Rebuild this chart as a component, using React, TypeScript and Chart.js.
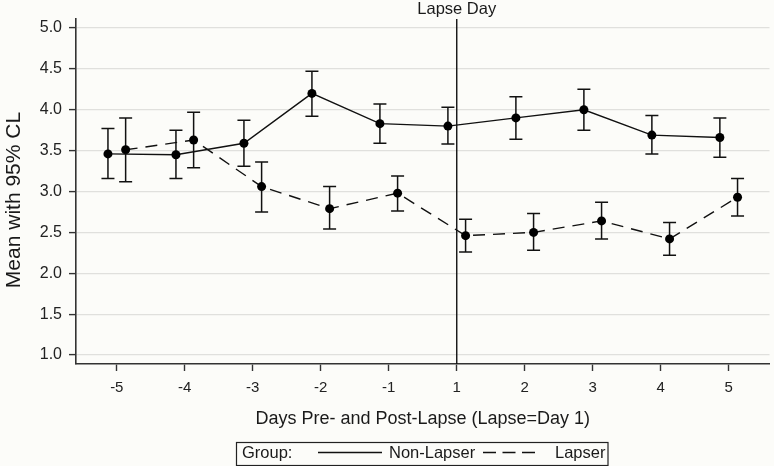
import React, { useEffect, useRef } from 'react';
import { Chart, registerables } from 'chart.js';

Chart.register(...registerables);

// ---- data ----
const categories = ['-5', '-4', '-3', '-2', '-1', '1', '2', '3', '4', '5'];
const yTickValues = [1.0, 1.5, 2.0, 2.5, 3.0, 3.5, 4.0, 4.5, 5.0];

const nonLapserMean = [3.46, 3.45, 3.59, 4.20, 3.83, 3.80, 3.90, 4.00, 3.69, 3.66];
const nonLapserLow = [3.16, 3.16, 3.31, 3.92, 3.59, 3.58, 3.64, 3.75, 3.46, 3.42];
const nonLapserHigh = [3.77, 3.75, 3.87, 4.47, 4.07, 4.03, 4.16, 4.25, 3.93, 3.90];

const lapserMean = [3.51, 3.63, 3.06, 2.79, 2.98, 2.46, 2.50, 2.64, 2.42, 2.93];
const lapserLow = [3.12, 3.29, 2.75, 2.54, 2.76, 2.26, 2.28, 2.42, 2.22, 2.70];
const lapserHigh = [3.90, 3.97, 3.36, 3.06, 3.19, 2.66, 2.73, 2.87, 2.62, 3.16];

const lapseDayLabel = '1';

// ---- styling ----
const BG = '#fcfcf9';
const FONT = '"Liberation Sans", Arial, sans-serif';
const INK = '#1a1a1a';
const AXIS = '#333333';
const GROUP_SHIFT = 0.13;
const DASH = [12, 8];

export default function App() {
  const ref = useRef<HTMLCanvasElement>(null);

  useEffect(() => {
    const canvas = ref.current!;
    const errors = [
      { low: nonLapserLow, high: nonLapserHigh },
      { low: lapserLow, high: lapserHigh },
    ];

    const bgPlugin = {
      id: 'bg',
      beforeDraw(chart: any) {
        const c = chart.ctx;
        c.save();
        c.fillStyle = BG;
        c.fillRect(0, 0, chart.width, chart.height);
        c.restore();
      },
    };

    const decorPlugin = {
      id: 'decor',
      beforeDatasetsDraw(chart: any) {
        const c = chart.ctx;
        const xs = chart.scales.x;
        const ys = chart.scales.y;
        const area = chart.chartArea;
        // lapse day reference line
        const lx = xs.getPixelForValue(categories.indexOf(lapseDayLabel));
        c.save();
        c.strokeStyle = '#111';
        c.lineWidth = 1.4;
        c.beginPath();
        c.moveTo(lx, area.top);
        c.lineTo(lx, area.bottom);
        c.stroke();
        c.fillStyle = INK;
        c.font = `16.5px ${FONT}`;
        c.textAlign = 'center';
        c.textBaseline = 'alphabetic';
        c.fillText('Lapse Day', lx, 14);

        // error bars
        c.strokeStyle = '#111';
        c.lineWidth = 1.5;
        errors.forEach((e, di) => {
          const meta = chart.getDatasetMeta(di);
          meta.data.forEach((pt: any, j: number) => {
            const x = pt.x;
            const yl = ys.getPixelForValue(e.low[j]);
            const yh = ys.getPixelForValue(e.high[j]);
            c.beginPath();
            c.moveTo(x, yl);
            c.lineTo(x, yh);
            c.moveTo(x - 6.5, yl);
            c.lineTo(x + 6.5, yl);
            c.moveTo(x - 6.5, yh);
            c.lineTo(x + 6.5, yh);
            c.stroke();
          });
        });
        c.restore();
      },
      afterDraw(chart: any) {
        const c = chart.ctx;
        const area = chart.chartArea;
        c.save();
        c.fillStyle = INK;
        // x title
        c.font = `18px ${FONT}`;
        c.textAlign = 'center';
        c.textBaseline = 'alphabetic';
        c.fillText('Days Pre- and Post-Lapse (Lapse=Day 1)', (area.left + area.right) / 2, 424);
        // y title
        c.save();
        c.translate(20, 200);
        c.rotate(-Math.PI / 2);
        c.font = `21px ${FONT}`;
        c.fillText('Mean with 95% CL', 0, 0);
        c.restore();

        // legend
        c.strokeStyle = '#222';
        c.lineWidth = 1.2;
        c.strokeRect(236.5, 442.5, 371.5, 23);
        c.font = `16.5px ${FONT}`;
        c.textAlign = 'left';
        c.fillText('Group:', 242, 458);
        c.fillText('Non-Lapser', 389, 458);
        c.fillText('Lapser', 555, 458);
        c.strokeStyle = '#111';
        c.lineWidth = 1.3;
        c.beginPath();
        c.moveTo(318, 452.5);
        c.lineTo(382, 452.5);
        c.stroke();
        c.setLineDash([13, 6.5]);
        c.beginPath();
        c.moveTo(483, 452.5);
        c.lineTo(535, 452.5);
        c.stroke();
        c.restore();
      },
    };

    const chart = new Chart(canvas, {
      type: 'scatter',
      data: {
        datasets: [
          {
            label: 'Non-Lapser',
            data: nonLapserMean.map((y, i) => ({ x: i - GROUP_SHIFT, y })),
            showLine: true,
            borderColor: '#111',
            borderWidth: 1.4,
            pointRadius: 4.5,
            pointBackgroundColor: '#000',
            pointBorderWidth: 0,
            tension: 0,
          },
          {
            label: 'Lapser',
            data: lapserMean.map((y, i) => ({ x: i + GROUP_SHIFT, y })),
            showLine: true,
            borderColor: '#111',
            borderWidth: 1.4,
            borderDash: DASH,
            pointRadius: 4.5,
            pointBackgroundColor: '#000',
            pointBorderWidth: 0,
            tension: 0,
          },
        ],
      },
      options: {
        animation: false,
        responsive: true,
        maintainAspectRatio: false,
        events: [],
        layout: { padding: { top: 19, right: 2, left: 0, bottom: 0 } },
        plugins: {
          legend: { display: false },
          tooltip: { enabled: false },
        },
        scales: {
          x: {
            type: 'linear',
            min: -0.6,
            max: categories.length - 0.4,
            afterBuildTicks(scale: any) {
              scale.ticks = categories.map((_, i) => ({ value: i }));
            },
            afterFit(scale: any) {
              scale.height = 102;
            },
            ticks: {
              callback: (v: any) => categories[v as number] ?? '',
              color: '#222',
              font: { family: FONT, size: 15 },
              padding: 8,
              maxRotation: 0,
              autoSkip: false,
            },
            grid: {
              drawOnChartArea: false,
              drawTicks: true,
              tickLength: 7,
              tickColor: AXIS,
              tickWidth: 1.4,
            },
            border: { display: true, color: AXIS, width: 1.6 },
          },
          y: {
            type: 'linear',
            min: 0.89,
            max: 5.11,
            afterBuildTicks(scale: any) {
              scale.ticks = yTickValues.map((v) => ({ value: v }));
            },
            afterFit(scale: any) {
              scale.width = 76;
            },
            ticks: {
              callback: (v: any) => Number(v).toFixed(1),
              color: '#222',
              font: { family: FONT, size: 16 },
              padding: 7,
            },
            grid: {
              color: '#e0e0dd',
              lineWidth: 1.2,
              drawTicks: true,
              tickLength: 7,
              tickColor: AXIS,
              tickWidth: 1.4,
            },
            border: { display: true, color: AXIS, width: 1.6 },
          },
        },
      },
      plugins: [bgPlugin, decorPlugin],
    } as any);

    return () => chart.destroy();
  }, []);

  return (
    <div style={{ position: 'absolute', left: 0, top: 0, width: 774, height: 466, background: BG }}>
      <canvas ref={ref} />
    </div>
  );
}
